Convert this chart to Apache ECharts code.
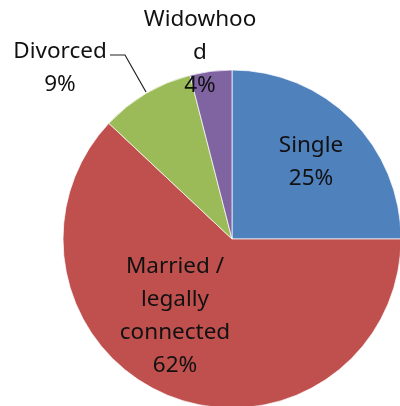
<!DOCTYPE html>
<html>
<head>
<meta charset="utf-8">
<script src="https://cdn.jsdelivr.net/npm/echarts@6/dist/echarts.min.js"></script>
<style>
  html, body { margin: 0; padding: 0; background: #fff; }
  #chart { width: 400px; height: 406px; }
</style>
</head>
<body>
<div id="chart"></div>
<script>
// 数据
var categories = ['Single', 'Married / legally connected', 'Divorced', 'Widowhood'];
var values     = [25, 62, 9, 4];
var colors     = ['#4F81BD', '#C0504D', '#9BBB59', '#8064A2'];
// how the labels wrap in the picture
var labelLines = ['Single', 'Married /\nlegally\nconnected', 'Divorced', 'Widowhoo\nd'];
// label anchor points (label centre)
var labelPos   = [[311, 162], [175, 316], [60, 68], [200, 53]];

var myChart = echarts.init(document.getElementById('chart'));

var option = {
	animation: false,
	series: [{
		type: 'pie',
		center: [232, 239],
		radius: 169,
		startAngle: 90,
		clockwise: true,
		data: categories.map(function (c, i) {
			return {
				name: c,
				value: values[i],
				itemStyle: { color: colors[i] },
				labelLine: { show: i === 2 }
			};
		}),
		itemStyle: {
			borderColor: 'rgba(255,255,255,0.7)',
			borderWidth: 1
		},
		label: {
			show: true,
			position: 'outside',
			overflow: 'none',
			fontFamily: 'Noto Sans',
			fontSize: 22.5,
			lineHeight: 33,
			color: '#111',
			align: 'center',
			formatter: function (p) {
				return labelLines[p.dataIndex] + '\n' + Math.round(p.percent) + '%';
			}
		},
		labelLine: {
			lineStyle: { color: '#222', width: 1.2 }
		},
		labelLayout: function (params) {
			var i = params.dataIndex;
			var res = {
				x: labelPos[i][0],
				y: labelPos[i][1],
				width: 200,
				align: 'center',
				verticalAlign: 'middle',
				hideOverlap: false
			};
			if (i === 2) {
				res.labelLinePoints = [[110, 55], [125, 55], [146, 92]];
			}
			return res;
		}
	}]
};

myChart.setOption(option);
</script>
</body>
</html>
